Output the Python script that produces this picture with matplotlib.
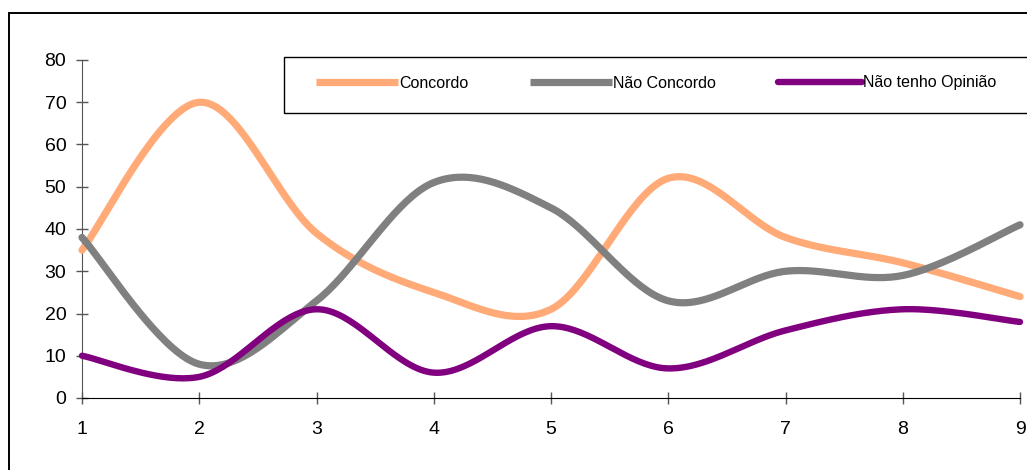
"""
Smoothed line chart: Concordo / Nao Concordo / Nao tenho Opiniao.
"""

import numpy as np
import matplotlib
matplotlib.use("Agg")
import matplotlib.pyplot as plt
from matplotlib.patches import Rectangle
from matplotlib.lines import Line2D

plt.rcParams["font.family"] = ["Liberation Sans", "DejaVu Sans"]

X = [1, 2, 3, 4, 5, 6, 7, 8, 9]
CONCORDO = [35, 70, 39, 25, 21, 52, 38, 32, 24]
NAO_CONCORDO = [38, 8, 23, 51, 45, 23, 30, 29, 41]
SEM_OPINIAO = [10, 5, 21, 6, 17, 7, 16, 21, 18]

LABELS = ["Concordo", "Não Concordo", "Não tenho Opinião"]
COLORS = ["#FFAA77", "#808080", "#800080"]
WIDTHS = [5.2, 5.2, 4.6]

W, H = 1027, 470


def smooth(x, y, n=40):
    # Excel-style smoothing: Bezier segments with Catmull-Rom control points
    p = np.column_stack([x, y]).astype(float)
    pts = []
    for i in range(len(p) - 1):
        p0 = p[i - 1] if i > 0 else p[i]
        p1, p2 = p[i], p[i + 1]
        p3 = p[i + 2] if i + 2 < len(p) else p[i + 1]
        c1 = p1 + (p2 - p0) / 6
        c2 = p2 - (p3 - p1) / 6
        t = np.linspace(0, 1, n)[:, None]
        seg = ((1 - t) ** 3 * p1 + 3 * (1 - t) ** 2 * t * c1
               + 3 * (1 - t) * t ** 2 * c2 + t ** 3 * p2)
        pts.append(seg if i == 0 else seg[1:])
    pts = np.vstack(pts)
    return pts[:, 0], pts[:, 1]


def fx(px):
    return px / W


def fy(py):
    return 1 - py / H


def main():
    fig = plt.figure(figsize=(W / 100, H / 100), dpi=100)
    ax = fig.add_axes([fx(82), fy(398), fx(1020) - fx(82), fy(60) - fy(398)])

    series = [CONCORDO, NAO_CONCORDO, SEM_OPINIAO]
    for vals, color, lw in zip(series, COLORS, WIDTHS):
        sx, sy = smooth(X, vals)
        ax.plot(sx, sy, color=color, lw=lw, solid_capstyle="round",
                solid_joinstyle="round", clip_on=False, zorder=3)

    ax.set_xlim(1, 9)
    ax.set_ylim(0, 80)
    ax.set_xticks(X)
    ax.set_yticks(range(0, 81, 10))
    for s in ["top", "right"]:
        ax.spines[s].set_visible(False)
    ax.spines["left"].set_color("#555555")
    ax.spines["bottom"].set_color("black")
    ax.tick_params(axis="y", direction="inout", length=8.6, width=1,
                   color="#555555", labelsize=14, pad=7)
    ax.tick_params(axis="x", direction="inout", length=8.6, width=1,
                   color="#555555", labelsize=14, pad=12)

    # outer chart frame
    fig.add_artist(Rectangle((fx(9), fy(500)), fx(1100) - fx(9), fy(13) - fy(500),
                             transform=fig.transFigure, fill=False,
                             edgecolor="black", lw=1.4))

    # legend box
    fig.add_artist(Rectangle((fx(284), fy(113)), fx(1100) - fx(284), fy(57) - fy(113),
                             transform=fig.transFigure, fill=False,
                             edgecolor="black", lw=1))
    handles = [(316, 398), (530, 612), (778, 862)]
    for (x0, x1), color, lw, label in zip(handles, COLORS, WIDTHS, LABELS):
        fig.add_artist(Line2D([fx(x0), fx(x1)], [fy(82), fy(82)],
                              transform=fig.transFigure, color=color, lw=lw,
                              solid_capstyle="round" if color == "#800080" else "butt"))
        fig.text(fx(x1 + 1), fy(83), label, fontsize=11.5, va="center", ha="left")

    fig.savefig("out.png", dpi=100)
    plt.close(fig)


if __name__ == "__main__":
    main()
